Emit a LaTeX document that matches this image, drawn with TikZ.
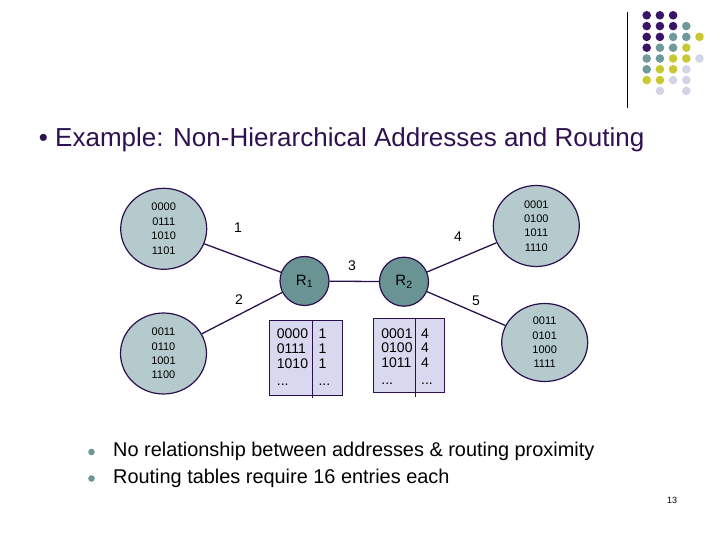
\documentclass[tikz,border=0pt]{standalone}
\usepackage{fontspec}
\setmainfont{Liberation Sans}
\usetikzlibrary{shapes.geometric}
\definecolor{dpurple}{HTML}{3A1466}
\definecolor{dteal}{HTML}{6E9A9A}
\definecolor{dyellow}{HTML}{C8C832}
\definecolor{dlav}{HTML}{D4D4E8}
\definecolor{hostfill}{HTML}{B5CACC}
\definecolor{routfill}{HTML}{6A9494}
\definecolor{edgecol}{HTML}{2B1050}
\definecolor{tabfill}{HTML}{D8D8EE}
\definecolor{titlecol}{HTML}{2E1150}
\definecolor{bulcol}{HTML}{6F9696}
\tikzset{
  host/.style={ellipse, draw=edgecol, line width=1.2pt, fill=hostfill, minimum width=86pt, minimum height=81pt, inner sep=0pt, align=center, font=\fontsize{11}{14.4}\selectfont},
  router/.style={circle, draw=edgecol, line width=1.2pt, fill=routfill, minimum size=49pt, inner sep=0pt, font=\fontsize{15}{18}\selectfont},
  link/.style={draw=edgecol, line width=1.3pt},
  elabel/.style={font=\fontsize{14}{16}\selectfont, inner sep=0pt},
  tabbox/.style={draw=edgecol, line width=0.9pt, fill=tabfill, inner sep=0pt},
  tabtxt/.style={anchor=west, inner sep=0pt, font=\fontsize{14}{16}\selectfont}
}
\begin{document}
\begin{tikzpicture}[x=1pt, y=-1pt]
\useasboundingbox (0,0) rectangle (720,540);
% decoration
\draw[line width=0.8pt] (627.7,12) -- (627.7,108);
\foreach \c/\x/\y in {dpurple/1/1,dpurple/2/1,dpurple/3/1,
  dpurple/1/2,dpurple/2/2,dpurple/3/2,dteal/4/2,
  dpurple/1/3,dpurple/2/3,dteal/3/3,dteal/4/3,dyellow/5/3,
  dpurple/1/4,dteal/2/4,dteal/3/4,dyellow/4/4,
  dteal/1/5,dteal/2/5,dyellow/3/5,dyellow/4/5,dlav/5/5,
  dteal/1/6,dyellow/2/6,dyellow/3/6,dlav/4/6,
  dyellow/1/7,dyellow/2/7,dlav/3/7,dlav/4/7,
  dlav/2/8,dlav/4/8}
  \fill[\c] ({633.5+13.2*\x},{4.5+10.8*\y}) circle (4.3);
% title
\node[anchor=west, text=titlecol, font=\fontsize{26}{30}\selectfont, inner sep=0pt] (title) at (38.7,140) {\textbullet\ Example: Non-Hierarchical Addresses and Routing};
% hosts
\node[host] (h1) at (163.7,228.8) {0000\\0111\\1010\\1101};
\node[host] (h2) at (163.5,353.5) {0011\\0110\\1001\\1100};
\node[host] (h3) at (536.3,226) {0001\\0100\\1011\\1110};
\node[host, minimum height=78pt] (h4) at (544.7,342.5) {0011\\0101\\1000\\1111};
% routers
\node[router] (r1) at (304.5,281) {R\textsubscript{1}};
\node[router] (r2) at (404,281.7) {R\textsubscript{2}};
% links
\draw[link] (h1) -- (r1);
\draw[link] (h2) -- (r1);
\draw[link] (r1) -- (r2);
\draw[link] (r2) -- (h3);
\draw[link] (r2) -- (h4);
% link labels
\node[elabel] (l1) at (238,228) {1};
\node[elabel] (l2) at (239,300) {2};
\node[elabel] (l3) at (352,266) {3};
\node[elabel] (l4) at (458,237) {4};
\node[elabel] (l5) at (476,301) {5};
% table 1
\node[tabbox, minimum width=73.3pt, minimum height=75.7pt] (t1) at (305.7,357.8) {};
\coordinate (t1d) at (312.3,398.3);
\draw[edgecol, line width=0.9pt] (t1.north -| t1d) -- (t1d);
\node[tabtxt] (t1a) at (276.7,334) {0000};
\node[tabtxt] (t1b) at (276.7,348.5) {0111};
\node[tabtxt] (t1c) at (276.7,363.5) {1010};
\node[tabtxt] (t1d1) at (276.7,384.5) {...};
\node[tabtxt] (t1e) at (318.3,334) {1};
\node[tabtxt] (t1f) at (318.3,348.5) {1};
\node[tabtxt] (t1g) at (318.3,363.5) {1};
\node[tabtxt] (t1h) at (318.3,384.5) {...};
% table 2
\node[tabbox, minimum width=71pt, minimum height=74pt] (t2) at (408.8,355.3) {};
\coordinate (t2d) at (415,397.3);
\draw[edgecol, line width=0.9pt] (t2.north -| t2d) -- (t2d);
\node[tabtxt] (t2a) at (381.2,333.3) {0001};
\node[tabtxt] (t2b) at (381.2,347.7) {0100};
\node[tabtxt] (t2c) at (381.2,362.7) {1011};
\node[tabtxt] (t2d1) at (381.2,384) {...};
\node[tabtxt] (t2e) at (421,333.3) {4};
\node[tabtxt] (t2f) at (421,347.7) {4};
\node[tabtxt] (t2g) at (421,362.7) {4};
\node[tabtxt] (t2h) at (421,384) {...};
% bullets
\fill[bulcol] (91.5,452) circle (3.3);
\fill[bulcol] (91.5,478.5) circle (3.3);
\node[anchor=west, inner sep=0pt, font=\fontsize{19.9}{24}\selectfont] (b1) at (113,451) {No relationship between addresses \& routing proximity};
\node[anchor=west, inner sep=0pt, font=\fontsize{19.9}{24}\selectfont] (b2) at (113,478) {Routing tables require 16 entries each};
\node[inner sep=0pt, font=\fontsize{9}{10}\selectfont] (pg) at (672,500) {13};
\end{tikzpicture}
\end{document}
